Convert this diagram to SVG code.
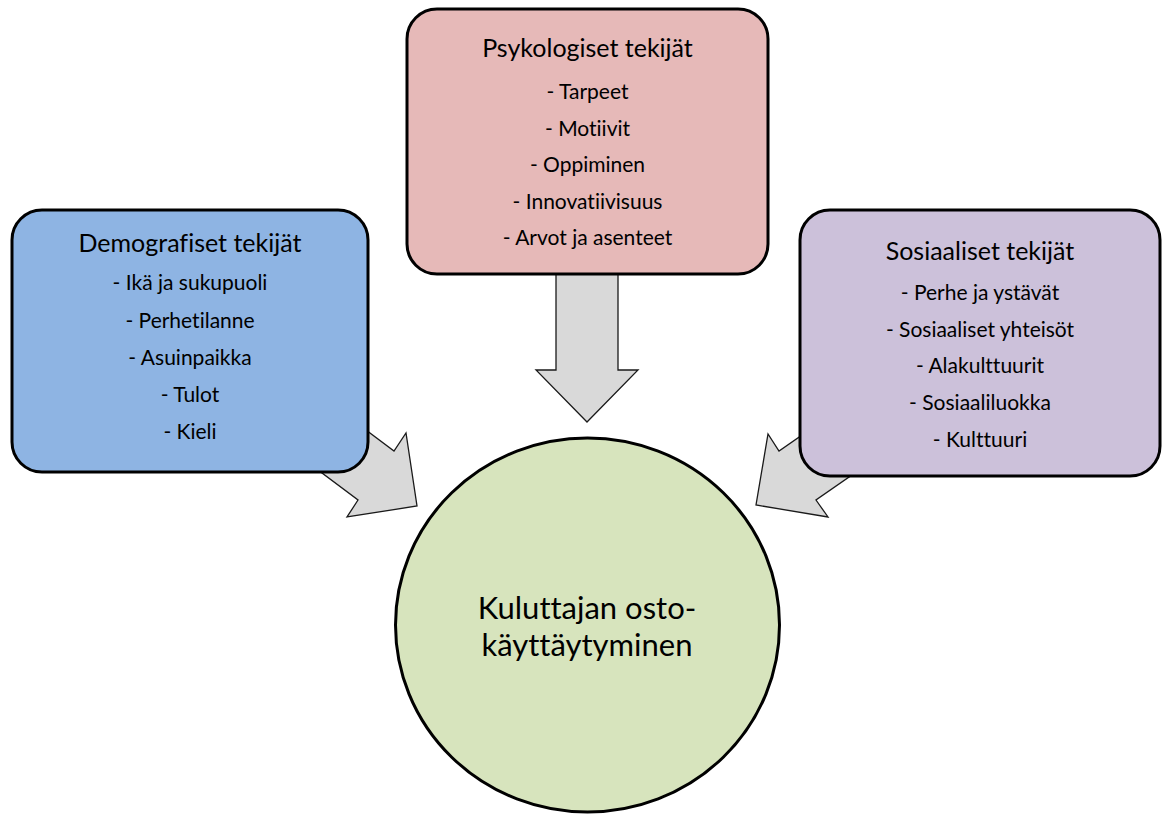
<svg xmlns="http://www.w3.org/2000/svg" width="1166" height="816" viewBox="0 0 1166 816">
<style>
.box{stroke:#000;stroke-width:3}
.arrow{fill:#D9D9D9;stroke:#1a1a1a;stroke-width:1.3;stroke-linejoin:miter}
.t{font-family:Lato,"Liberation Sans",sans-serif;fill:#000;text-anchor:middle;font-variant-ligatures:none;font-feature-settings:"liga" 0}
.title{font-size:25px}
.item{font-size:21px}
.big{font-size:31px}
</style>
<rect width="1166" height="816" fill="#fff"/>
<g id="connectors">
<polygon class="arrow" points="314,391 394,451 406,433 417,506 347,517 358,500 278,440"/>
<polygon class="arrow" points="556,260 618,260 618,370 638,370 587,422 536,370 556,370"/>
<polygon class="arrow" points="861,394 779,451 768,434 756,505 828,517 816,500 898,443"/>
</g>
<g id="demografiset">
<rect class="box" x="12" y="210" width="356" height="262" rx="30" fill="#8EB4E3"/>
<text class="t title" x="190" y="252">Demografiset tekijät</text>
<text class="t item" x="190" y="290">- Ikä ja sukupuoli</text>
<text class="t item" x="190" y="328">- Perhetilanne</text>
<text class="t item" x="190" y="365">- Asuinpaikka</text>
<text class="t item" x="190" y="402">- Tulot</text>
<text class="t item" x="190" y="439">- Kieli</text>
</g>
<g id="psykologiset">
<rect class="box" x="407" y="9" width="361" height="265" rx="30" fill="#E6B9B8"/>
<text class="t title" x="587.5" y="57">Psykologiset tekijät</text>
<text class="t item" x="587.5" y="99">- Tarpeet</text>
<text class="t item" x="587.5" y="136">- Motiivit</text>
<text class="t item" x="587.5" y="172">- Oppiminen</text>
<text class="t item" x="587.5" y="209">- Innovatiivisuus</text>
<text class="t item" x="587.5" y="245">- Arvot ja asenteet</text>
</g>
<g id="sosiaaliset">
<rect class="box" x="800" y="210" width="360" height="266" rx="30" fill="#CCC1DA"/>
<text class="t title" x="980" y="260">Sosiaaliset tekijät</text>
<text class="t item" x="980" y="300">- Perhe ja ystävät</text>
<text class="t item" x="980" y="337">- Sosiaaliset yhteisöt</text>
<text class="t item" x="980" y="373">- Alakulttuurit</text>
<text class="t item" x="980" y="410">- Sosiaaliluokka</text>
<text class="t item" x="980" y="447">- Kulttuuri</text>
</g>
<g id="kuluttaja">
<ellipse class="box" cx="587.5" cy="625" rx="192" ry="187" fill="#D7E4BD"/>
<text class="t big" x="587" y="619">Kuluttajan osto-</text>
<text class="t big" x="587" y="656">käyttäytyminen</text>
</g>
</svg>
